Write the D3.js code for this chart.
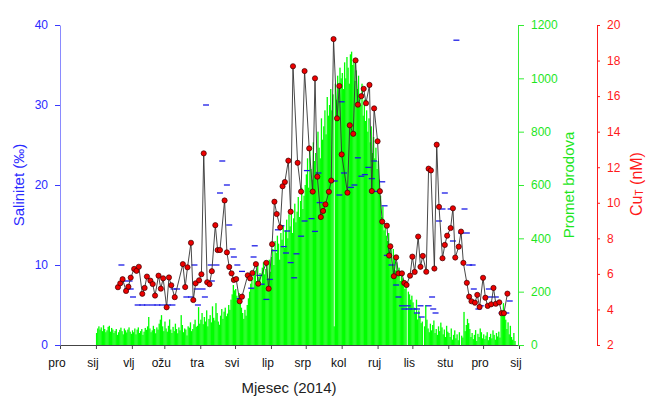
<!DOCTYPE html>
<html><head><meta charset="utf-8">
<script src="https://cdn.jsdelivr.net/npm/d3@7/dist/d3.min.js"></script>
<style>
body{margin:0;background:#fff}
svg{display:block;font-family:Arial,"Liberation Sans",sans-serif}
</style>
</head><body>
<svg id="chart" width="646" height="399"></svg>
<script>
// ---------------- DATA ----------------
const monthLabels = ["pro","sij","vlj","ožu","tra","svi","lip","srp","kol","ruj","lis","stu","pro","sij"];
const salTicks = [0,10,20,30,40];
const shipTicks = [0,200,400,600,800,1000,1200];
const cuTicks = [2,4,6,8,10,12,14,16,18,20];

// Daily ship traffic (Promet brodova), 2014, by month
const shipJan = [45,62,70,58,66,52,74,60,48,55,68,72,50,64,58,45,53,60,38,48,57,65,52,40,62,55,47,58,66,50,42];
const shipFeb = [55,48,62,40,58,66,45,52,60,38,50,64,57,70,105,62,48,55,72,60,44,66,58,80,95,112,70,52];
const shipMar = [88,62,50,72,96,58,45,68,52,80,60,44,66,55,112,75,48,62,58,36,70,65,85,52,60,78,95,68,72,142,80];
const shipApr = [95,120,78,105,88,130,70,98,112,85,145,102,92,157,120,88,76,110,135,98,125,140,108,118,150,132,170,190,225,205];
const shipMay = [210,185,160,195,170,140,120,98,132,110,150,175,200,230,245,210,262,280,240,300,255,270,225,290,310,265,285,300,250,320,275];
const shipJun = [330,360,300,390,345,410,380,320,420,395,450,365,430,470,400,490,445,510,420,475,530,460,500,555,480,540,590,510,560,600];
const shipJul = [640,700,590,730,660,620,760,690,720,650,800,740,700,850,770,820,880,790,930,860,900,960,880,940,70,980,920,1010,960,1040,1000];
const shipAug = [1020,960,1060,1000,1080,1040,980,1090,1100,1050,1070,990,1030,960,1010,940,900,980,860,920,840,880,800,850,760,820,720,780,700,740,660];
const shipSep = [690,620,560,480,520,430,450,410,390,420,350,380,300,360,330,280,310,260,290,240,270,250,230,210,220,0,200,190,170,185];
const shipOct = [160,140,118,170,96,130,105,82,88,0,70,150,95,62,48,80,55,75,92,45,60,38,70,52,84,66,40,58,30,72,50];
const shipNov = [45,30,62,20,38,55,25,40,18,48,0,35,28,124,52,75,98,82,60,30,45,22,38,56,15,42,30,62,48,25];
const shipDec = [40,22,35,48,18,30,42,25,55,38,20,45,32,50,28,130,110,157,120,95,60,85,40,72,30,20,45,15,0,0,0];

// Cu_T (nM): day of year 2014 (0 = 1 Jan) and value
const cuDay = [19,21,23,26,28,30,33,35,37,40,42,44,47,49,51,54,56,58,61,63,65,68,75,77,79,82,84,86,89,91,
  93,96,98,100,103,105,107,111,113,115,117,119,121,124,126,131,133,135,138,140,147,149,152,154,156,159,161,163,166,168,
  170,174,177,180,184,187,189,191,194,196,198,201,203,205,208,210,212,217,219,222,224,226,229,231,233,236,238,240,243,245,
  247,251,253,254,257,259,261,264,266,268,271,273,275,278,280,282,285,287,289,292,294,296,299,301,303,306,308,310,313,315,
  317,320,322,324,327,329,331,334,336,338,341,343,345,348,350,352,355];
const cuValue = [5.25,5.47,5.70,5.04,5.28,5.79,6.28,6.17,6.40,4.88,5.21,5.85,5.62,5.43,4.78,5.90,5.17,5.75,4.12,5.80,
  5.36,4.69,6.55,5.26,6.37,7.75,4.53,5.47,5.64,5.98,12.78,5.53,5.42,6.15,8.74,7.34,7.34,10.13,7.21,6.39,
  6.03,5.66,5.71,4.46,4.72,5.92,5.75,6.05,6.55,5.45,6.62,5.17,7.67,10.06,9.37,8.62,10.93,11.17,12.37,9.50,
  17.68,12.25,10.63,17.41,13.06,10.63,17.00,11.47,9.20,9.54,9.91,10.62,11.25,19.21,14.75,16.57,12.72,10.57,14.36,13.88,
  18.01,15.52,16.00,16.41,15.60,16.63,10.66,15.31,13.46,10.65,8.94,8.71,7.03,7.55,5.87,6.93,6.03,6.03,5.49,5.38,
  5.90,6.97,6.11,8.10,6.40,7.01,6.12,11.92,11.82,6.30,13.27,9.77,6.88,7.63,8.15,8.58,9.69,6.92,7.53,8.38,
  6.62,5.50,4.72,4.46,4.38,4.82,4.14,5.78,4.66,4.20,4.29,5.21,4.32,4.40,3.79,3.79,4.89];

// Salinity (‰): day of year 2014 and value
const salDay = [22,24,29,27,30,32,36,40,44,49,53,57,62,66,67,70,78,82,85,87,92,88,94,95,99,104,100,107,109,113,
  115,118,119,122,124,126,134,136,137,141,143,147,150,154,157,160,162,165,164,168,171,173,177,180,182,186,189,192,193,206,
  210,212,214,220,223,226,229,232,235,238,240,242,247,249,251,255,259,261,264,269,266,270,274,277,277,280,281,287,290,291,
  293,296,299,301,306,308,311,315,320,318,322,325,326,330,332,339,340,345,350,354,357];
const salValue = [10,8,8,7,7,6,5,5,5,5,5,5,5,5,7,7,6,6,10,7,7,5,6,30,10,10,8,19,23,20,
  15,12,11,10,5.8,9.2,7.1,11,12.4,8.7,7.6,5.7,8.2,11.8,14.4,14.9,12.3,14.25,11.5,10.3,8.4,11.4,13.6,15.5,21.8,15.8,14.2,21.5,17.8,20.5,
  18.75,30.4,21.5,19.7,20,23.4,21.1,21.3,22.2,20.8,23,19.2,20.4,17.4,11.2,10,7.5,6,4.9,4.9,4.5,4.5,4.5,4.5,4.0,4.9,3.5,4.9,6,4.5,
  4.0,15.5,17,19,17,13,38.1,14,14,17,10,10,7,4.5,4.9,7,6,6,4,4,5.5];

// ---------------- CHART ----------------
const svg = d3.select("#chart");
const X0 = 60, X1 = 519, YB = 345, YT = 25;
const day = d => new Date(Date.UTC(2014, 0, 1 + d));

const x = d3.scaleUtc().domain([new Date(Date.UTC(2013,11,1)), new Date(Date.UTC(2015,0,1))]).range([X0, X1]);
const ySal = d3.scaleLinear().domain([0,40]).range([YB, YT]);
const yShip = d3.scaleLinear().domain([0,1200]).range([YB, YT]);
const yCu = d3.scaleLinear().domain([2,20]).range([YB, YT]);

const BLUE = "#2a2aff", GREEN = "#1ee61e", RED = "#ff1a1a";

// ship bars
const ship = [].concat(shipJan, shipFeb, shipMar, shipApr, shipMay, shipJun, shipJul, shipAug, shipSep, shipOct, shipNov, shipDec);
svg.append("g").selectAll("rect").data(ship).join("rect")
  .attr("x", (v,i) => x(day(i)))
  .attr("width", (v,i) => x(day(i+1)) - x(day(i)) + 0.15)
  .attr("y", v => yShip(v))
  .attr("height", v => YB - yShip(v))
  .attr("fill", "#00ff00");

// salinity dashes
svg.append("g").selectAll("line").data(salDay).join("line")
  .attr("x1", (d,i) => x(day(d)) - 3)
  .attr("x2", (d,i) => x(day(d)) + 3)
  .attr("y1", (d,i) => ySal(salValue[i]))
  .attr("y2", (d,i) => ySal(salValue[i]))
  .attr("stroke", "#1a1ae6").attr("stroke-width", 1.3);

// Cu line + points
const cuPts = cuDay.map((d,i) => [x(day(d)), yCu(cuValue[i])]);
svg.append("path").attr("d", d3.line()(cuPts))
  .attr("fill","none").attr("stroke","#333").attr("stroke-width",0.9);
svg.append("g").selectAll("circle").data(cuPts).join("circle")
  .attr("cx", p => p[0]).attr("cy", p => p[1]).attr("r", 2.6)
  .attr("fill", "#ee0000").attr("stroke", "#3a0000").attr("stroke-width", 0.7);

// axes
const styleAxis = (g, color, textColor) => {
  g.selectAll("path").attr("stroke", color);
  g.selectAll("line").attr("stroke", color);
  g.selectAll("text").attr("fill", textColor).attr("font-size", 12).attr("font-family", "Arial, 'Liberation Sans', sans-serif");
};

const tickDates = d3.range(0, 14).map(i => new Date(Date.UTC(2013, 11 + i, 1)));
const gx = svg.append("g").attr("transform", `translate(0,${YB})`)
  .call(d3.axisBottom(x).tickValues(tickDates).tickSize(4).tickSizeOuter(0).tickPadding(9.5)
    .tickFormat((d,i) => monthLabels[i]));
styleAxis(gx, "#444", "#111");
gx.selectAll("text").attr("dx", -3.5);

const gl = svg.append("g").attr("transform", `translate(${X0},0)`)
  .call(d3.axisLeft(ySal).tickValues(salTicks).tickSize(5).tickSizeOuter(0).tickPadding(7).tickFormat(d3.format("d")));
styleAxis(gl, "#8a8aff", BLUE);
gl.selectAll(".tick line").attr("stroke", "#3a3aff");

const gg = svg.append("g").attr("transform", `translate(518,0)`)
  .call(d3.axisRight(yShip).tickValues(shipTicks).tickSize(6).tickSizeOuter(0).tickPadding(7).tickFormat(d3.format("d")));
styleAxis(gg, "#33ee33", GREEN);

const gr = svg.append("g").attr("transform", `translate(597,0)`)
  .call(d3.axisRight(yCu).tickValues(cuTicks).tickSize(3).tickSizeOuter(0).tickPadding(7).tickFormat(d3.format("d")));
styleAxis(gr, RED, RED);

// titles
svg.append("text").attr("transform", "translate(18,185) rotate(-90)")
  .attr("text-anchor","middle").attr("dominant-baseline","central")
  .attr("font-size",15).attr("fill",BLUE).text("Salinitet (‰)");
svg.append("text").attr("transform", "translate(568.5,185) rotate(-90)")
  .attr("text-anchor","middle").attr("dominant-baseline","central")
  .attr("font-size",15).attr("fill",GREEN).text("Promet brodova");
const cu = svg.append("text").attr("transform", "translate(636,184) rotate(-90)")
  .attr("text-anchor","middle").attr("dominant-baseline","central")
  .attr("font-size",16).attr("fill",RED);
cu.append("tspan").text("Cu");
cu.append("tspan").attr("font-size",10).attr("dy",3).text("T");
cu.append("tspan").attr("dy",-3).text(" (nM)");
svg.append("text").attr("x",289).attr("y",393).attr("text-anchor","middle")
  .attr("font-size",15).attr("fill","#222").text("Mjesec (2014)");
</script>
</body></html>
